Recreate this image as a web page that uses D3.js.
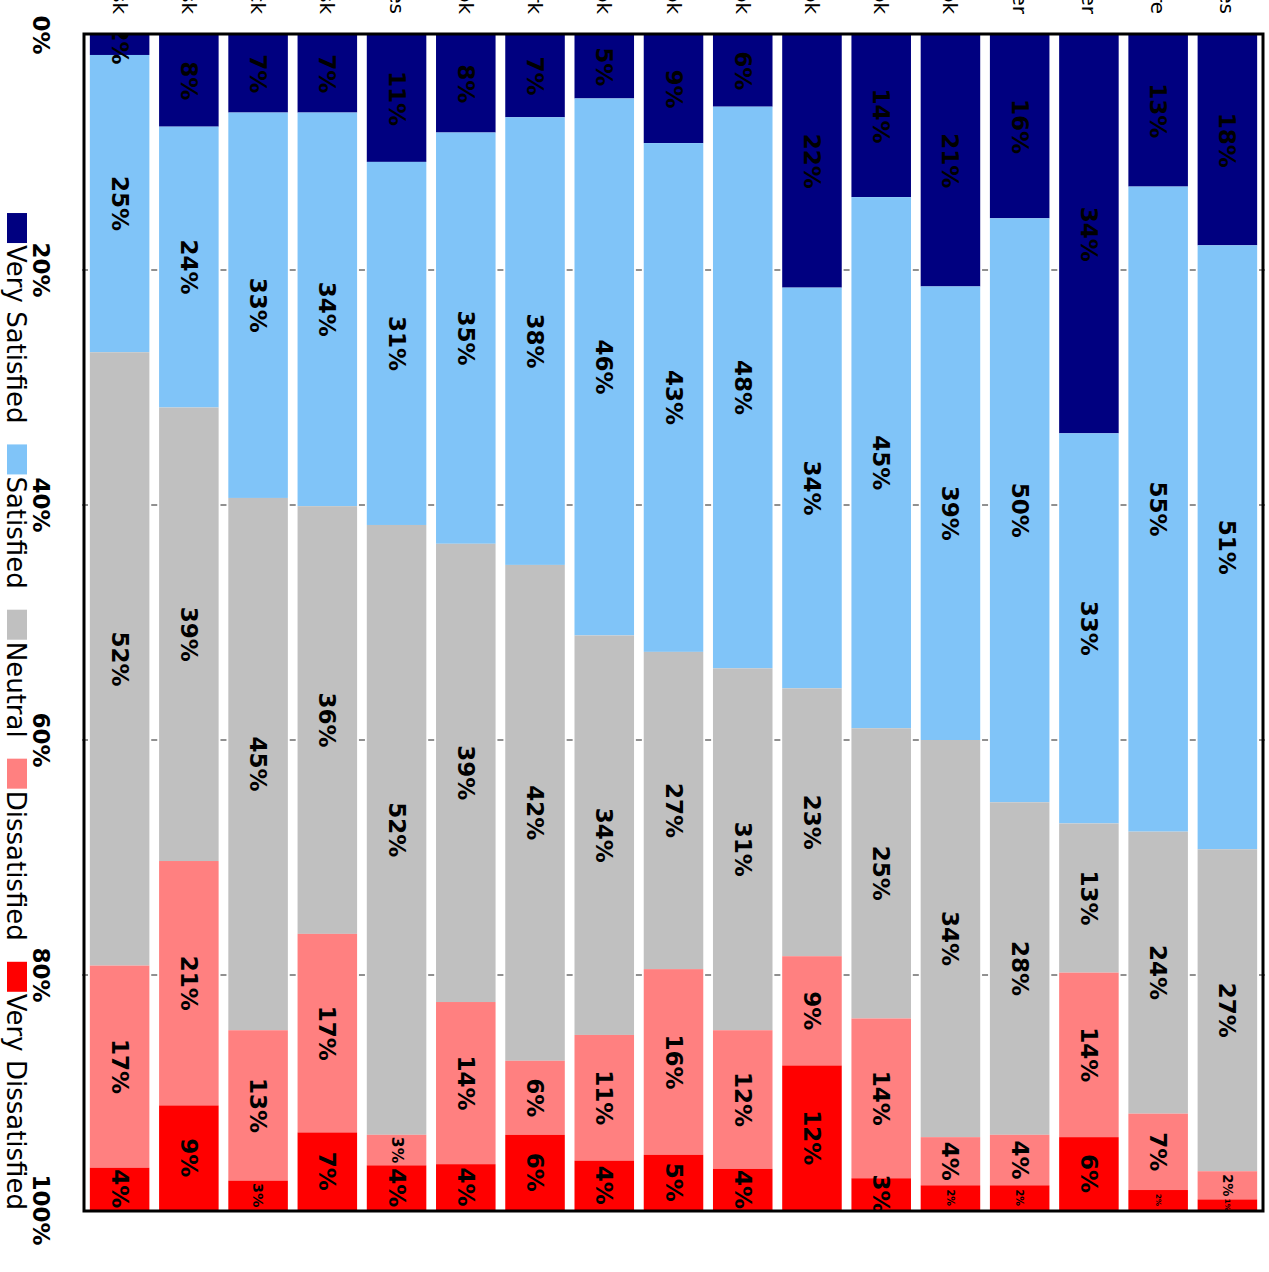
<!DOCTYPE html>
<html>
<head>
<meta charset="utf-8">
<script src="https://cdn.jsdelivr.net/npm/d3@7"></script>
<style>
  body { margin: 0; background: #fff; }
  text { font-family: "DejaVu Sans", sans-serif; }
</style>
</head>
<body>
<svg id="mainsvg" width="1269" height="1272"></svg>
<script>
// data (percent of answers per category)
const categories = ["Service Desk", "Helpdesk", "Feedback", "Front Desk", "IT Services", "Notebook",
  "Campus Network", "Outlook", "Workbook", "Playbook", "Handbook", "Yearbook", "Logbook",
  "Computer", "Printer", "Software", "Web Sites"];
const seriesNames = ["Very Satisfied", "Satisfied", "Neutral", "Dissatisfied", "Very Dissatisfied"];
const verySatisfied    = [1.7, 7.8, 6.6, 6.6, 10.8, 8.3, 7.0, 5.4, 9.2, 6.1, 21.5, 13.8, 21.4, 15.6, 33.9, 12.9, 17.9];
const satisfied        = [25.3, 23.9, 32.8, 33.5, 30.9, 35.0, 38.1, 45.7, 43.3, 47.8, 34.1, 45.2, 38.6, 49.7, 33.2, 54.9, 51.4];
const neutral          = [52.2, 38.6, 45.3, 36.4, 51.9, 39.0, 42.2, 34.0, 27.0, 30.8, 22.8, 24.7, 33.8, 28.3, 12.7, 24.0, 27.4];
const dissatisfied     = [17.2, 20.8, 12.8, 16.9, 2.6, 13.8, 6.3, 10.7, 15.8, 11.8, 9.3, 13.6, 4.1, 4.3, 14.0, 6.5, 2.4];
const veryDissatisfied = [3.6, 8.9, 2.5, 6.6, 3.8, 3.9, 6.4, 4.2, 4.7, 3.5, 12.3, 2.7, 2.1, 2.1, 6.2, 1.7, 0.9];
const tickValues = [0, 20, 40, 60, 80, 100];
const colors = ["#000080", "#80c4f8", "#c0c0c0", "#ff8080", "#ff0000"];

const seriesValues = [verySatisfied, satisfied, neutral, dissatisfied, veryDissatisfied];
const rows = categories.map((c, i) => {
  let r = {category: c};
  seriesNames.forEach((s, k) => r[s] = seriesValues[k][i]);
  return r;
});

let svg = d3.select('#mainsvg');
var width = +svg.attr('width'), height = +svg.attr('height');

// the whole chart is turned a quarter turn clockwise
// inside g: u runs down the page, v runs right-to-left
let g = svg.append('g').attr('transform', `translate(${width},0) rotate(90)`);

const x = d3.scaleLinear().domain([0, 100]).range([35, 1210]);
const y = d3.scaleBand().domain(categories).range([1184, 7])
  .paddingInner(0.14).paddingOuter(0.07);
const color = d3.scaleOrdinal().domain(seriesNames).range(colors);

const stacked = d3.stack().keys(seriesNames)(rows);

// small ticks between the bars
const step = y.step();
const gridTicks = tickValues.filter(t => t > 0 && t < 100);
gridTicks.forEach(t => {
  d3.range(categories.length + 1).forEach(i => {
    const b = 1184 - i * step;
    g.append('line')
      .attr('x1', x(t)).attr('x2', x(t))
      .attr('y1', b - 3).attr('y2', b + 3)
      .attr('stroke', '#222').attr('stroke-width', 1);
  });
});

// bars
const layers = g.selectAll('g.layer').data(stacked).enter().append('g')
  .attr('class', 'layer')
  .attr('fill', d => color(d.key));
layers.selectAll('rect').data(d => d).enter().append('rect')
  .attr('x', d => x(d[0]))
  .attr('y', d => y(d.data.category))
  .attr('width', d => x(d[1]) - x(d[0]))
  .attr('height', y.bandwidth());

// value labels, clipped to the plot
g.append('clipPath').attr('id', 'plotclip').append('rect')
  .attr('x', x(0)).attr('y', 7).attr('width', x(100) - x(0)).attr('height', 1177);
const shrinkKeys = ["Dissatisfied", "Very Dissatisfied"];
const labelG = g.append('g').attr('clip-path', 'url(#plotclip)');
stacked.forEach(layer => {
  layer.forEach(d => {
    const v = d[1] - d[0];
    const len = x(d[1]) - x(d[0]);
    let fs = 23;
    if (shrinkKeys.includes(layer.key) && len < 31) fs = Math.max(7, Math.min(23, len - 15));
    labelG.append('text')
      .attr('x', (x(d[0]) + x(d[1])) / 2)
      .attr('y', y(d.data.category) + y.bandwidth() / 2)
      .attr('text-anchor', 'middle')
      .attr('dominant-baseline', 'central')
      .attr('font-weight', 'bold')
      .attr('font-size', fs)
      .attr('fill', '#000')
      .text(Math.round(v) + '%');
  });
});

// frame
g.append('rect')
  .attr('x', x(0) - 1).attr('y', 6)
  .attr('width', x(100) - x(0) + 2).attr('height', 1179)
  .attr('fill', 'none').attr('stroke', '#000').attr('stroke-width', 3);

// axis labels
g.selectAll('text.tick').data(tickValues).enter().append('text')
  .attr('class', 'tick')
  .attr('x', d => x(d))
  .attr('y', 1236)
  .attr('text-anchor', 'middle')
  .attr('font-weight', 'bold')
  .attr('font-size', 23)
  .text(d => d + '%');

// category labels (run off the page edge)
g.selectAll('text.cat').data(categories).enter().append('text')
  .attr('class', 'cat')
  .attr('x', 14)
  .attr('y', d => y(d) + y.bandwidth() / 2)
  .attr('text-anchor', 'end')
  .attr('dominant-baseline', 'central')
  .attr('font-size', 20)
  .text(d => d);

// legend, right aligned with the plot end
const legend = g.append('g');
const items = legend.selectAll('g').data(seriesNames).enter().append('g');
items.append('rect').attr('width', 30).attr('height', 20).attr('y', 1242)
  .attr('fill', d => color(d));
items.append('text').attr('x', 32).attr('y', 1262)
  .attr('font-size', 26).text(d => d);
let widths = [];
items.each(function() { widths.push(32 + d3.select(this).select('text').node().getComputedTextLength()); });
const total = d3.sum(widths) + 21 * (widths.length - 1);
let pos = x(100) - total;
items.attr('transform', (d, i) => {
  const t = `translate(${pos},0)`;
  pos += widths[i] + 21;
  return t;
});
</script>
</body>
</html>
